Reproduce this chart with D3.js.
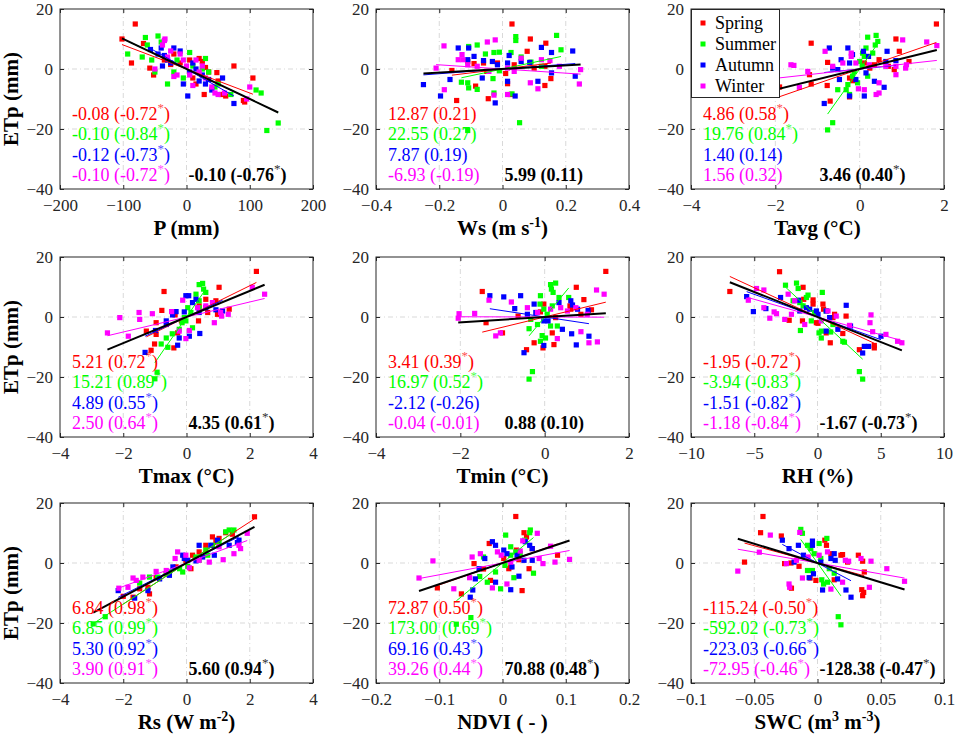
<!DOCTYPE html>
<html><head><meta charset="utf-8">
<script src="https://cdn.jsdelivr.net/npm/d3@7"></script>
<style>
body{margin:0;background:#fff}
svg{display:block}
text{font-family:"Liberation Serif","Times New Roman",serif}
</style>
</head><body>
<svg id="chart" width="957" height="747"></svg>
<script>
// ---------- data ----------
const seasons = ["Spring","Summer","Autumn","Winter"];
const seasonColors = ["#ff0000","#00ff00","#0000ff","#ff00ff"];
const yTicks = [-40,-20,0,20];
const xLabels = ["P (mm)","Ws (m s^{-1})","Tavg (°C)","Tmax (°C)","Tmin (°C)","RH (%)","Rs (W m^{-2})","NDVI ( - )","SWC (m^{3} m^{-3})"];
const xDomains = [[-200,200],[-0.4,0.4],[-4,2],[-4,4],[-4,2],[-10,10],[-4,4],[-0.2,0.2],[-0.1,0.1]];
const xTicks = [[-200,-100,0,100,200],[-0.4,-0.2,0,0.2,0.4],[-4,-2,0,2],[-4,-2,0,2,4],[-4,-2,0,2],[-10,-5,0,5,10],[-4,-2,0,2,4],[-0.2,-0.1,0,0.1,0.2],[-0.1,-0.05,0,0.05,0.1]];

// slopes [spring, summer, autumn, winter, all]
const slopes = [
  [-0.08,-0.10,-0.12,-0.10,-0.10],
  [12.87,22.55,7.87,-6.93,5.99],
  [4.86,19.76,1.40,1.56,3.46],
  [5.21,15.21,4.89,2.50,4.35],
  [3.41,16.97,-2.12,-0.04,0.88],
  [-1.95,-3.94,-1.51,-1.18,-1.67],
  [6.84,6.85,5.30,3.90,5.60],
  [72.87,173.00,69.16,39.26,70.88],
  [-115.24,-592.02,-223.03,-72.95,-128.38]
];
const corrs = [
  [-0.72,-0.84,-0.73,-0.72,-0.76],
  [0.21,0.27,0.19,-0.19,0.11],
  [0.58,0.84,0.14,0.32,0.40],
  [0.72,0.89,0.55,0.64,0.61],
  [0.39,0.52,-0.26,-0.01,0.10],
  [-0.72,-0.83,-0.82,-0.84,-0.73],
  [0.98,0.99,0.92,0.91,0.94],
  [0.50,0.69,0.43,0.44,0.48],
  [-0.50,-0.73,-0.66,-0.46,-0.47]
];
const signif = [
  [1,1,1,1,1],[0,0,0,0,0],[1,1,0,0,1],[1,1,1,1,1],[1,1,0,0,0],
  [1,1,1,1,1],[1,1,1,1,1],[1,1,1,1,1],[1,1,1,1,1]
];

// scatter points [x, ETp] per season (Spring, Summer, Autumn, Winter)
const ptsP = [
  [[-102,10],[-81,15],[-87,2],[-68,8.5],[-52,-2],[-58,0.3],[-35,3],[-20,5],[-10,2],[5,3],[20,3.5],[25,2.5],[30,0.5],[35,-1],[48,-1.2],[50,-4],[55,-8.5],[62,-9],[75,1],[90,-10.5],[92,-11],[105,-3],[28,-8.5],[15,-5],[10,-3],[-25,1.5]],
  [[-93,5],[-70,4],[-65,10.5],[-62,8],[-45,11],[-40,9],[-55,3],[-50,-1],[-30,-5],[-20,-1],[-5,-3],[5,5.5],[10,1],[30,3.5],[35,-1],[45,-6],[70,-8.5],[110,-7],[118,-8],[127,-20.5],[145,-18],[-15,3],[25,0],[50,-5]],
  [[-57,6.5],[-40,7],[-38,1],[-35,4.5],[-30,3],[-20,7],[-10,6],[-5,-5],[2,-9],[10,2],[15,0],[20,-4],[30,-5],[35,-3.5],[40,-7],[57,-3],[75,-11.5],[-25,2],[5,-1],[25,-2],[-45,5]],
  [[-50,0],[-38,8],[-35,9.5],[-34,10],[-30,4],[-25,6],[-20,-2.5],[-15,-2],[-10,5],[0,1],[5,-2],[10,-5.5],[15,3],[25,1],[30,-3],[40,-6],[45,-8],[50,-8.5],[60,-8],[95,-10],[100,-6],[-5,3],[20,-1]]
];
const ptsWs = [
  [[0.03,15],[0.088,10],[0.137,8.6],[0.153,-3.2],[0.134,-5.5],[0.078,5.9],[0.016,-4.9],[-0.045,-9.9],[-0.145,-10.5],[-0.085,-5.7],[-0.16,-0.5],[-0.11,2.5],[-0.09,1.8],[-0.06,2],[-0.016,2],[0.037,1.4],[0.1,0.3],[0.134,0.9],[-0.05,-0.8],[0.025,-8.5],[0.01,-1.5]],
  [[0.171,11.2],[0.042,10.8],[0.042,9.5],[0.054,-17.9],[-0.11,-20.5],[0.03,-8.3],[-0.027,-8],[-0.03,-3.2],[-0.08,-6.8],[-0.107,-6.3],[-0.11,-4.6],[-0.13,-4.4],[-0.107,7.5],[-0.08,8],[-0.054,5],[-0.027,5.5],[-0.01,5.6],[0.027,5.5],[0.059,4],[0.09,2.3],[0.123,0.9],[0.185,6.4],[-0.01,-0.6]],
  [[-0.25,-5.2],[-0.196,-9],[-0.023,-11.3],[0.04,-9],[0.23,-2.4],[0.222,6],[0.155,5.5],[0.123,7.2],[-0.107,7],[-0.14,7],[-0.09,4.2],[-0.06,2.8],[-0.032,2.5],[-0.016,1.4],[0.016,2],[0.021,4.5],[0.059,2.5],[0.086,2.2],[-0.064,-3],[0.016,-4.1],[0.112,-4.1],[0.155,-1.3],[-0.166,-3.5],[-0.11,3.1]],
  [[-0.185,7.7],[-0.184,-6.9],[-0.128,4.8],[-0.125,3.1],[-0.048,9],[-0.023,9.7],[-0.043,-0.8],[-0.027,-8.7],[0.016,-8.5],[0.112,-6.6],[0.088,-4.6],[0.247,-0.2],[0.243,-5],[0.15,2.8],[0.123,3.1],[0.059,3.6],[0.037,-0.8],[0.016,0.3],[-0.08,0.9],[-0.11,1.4],[-0.21,0.3],[-0.14,3.1],[0.18,0.9]]
];
const ptsTavg = [
  [[1.82,15],[0.86,10],[0.94,5.9],[1.17,2.5],[0.68,0.9],[0.46,3.1],[-1.15,8.6],[-1.15,-5],[-0.77,-5.5],[-0.76,2.2],[-0.7,-10.7],[-0.24,-9.3],[-0.17,-3.9],[0.11,2],[0.24,0.3],[0.35,1.4],[0.82,-0.2],[-0.24,-3],[-1.19,-1.9],[-1.9,-6]],
  [[-0.76,-20.3],[-0.64,-17.9],[0.39,11.2],[0.19,10.6],[0.43,9.2],[0.37,8],[0.15,7],[0.07,5.3],[0.11,4.2],[0,2.5],[0.06,0.9],[-0.17,-2.4],[-0.28,-5.2],[-0.32,-6.9],[-0.52,-6.9],[-0.24,-8.5],[0.19,-2.4],[0.31,5.3],[-0.13,-0.8],[-0.05,-4.6]],
  [[-0.84,-11.5],[-0.72,7],[-0.28,7],[-0.24,2],[-0.44,3.1],[-0.52,-0.2],[-0.48,-3.5],[-0.24,-9],[0.11,-9],[0.35,-4.1],[0.58,-6.1],[0.62,2.5],[0.65,5.9],[0.86,2.8],[0.09,5.9],[-0.17,4.8],[0.15,-1.3],[-0.09,-3.5],[0.21,4.2],[-0.64,0.3]],
  [[-1.63,1.4],[-1.56,1.2],[-1.43,-6.1],[-1.23,-0.8],[-0.82,5.9],[-0.64,0.9],[-0.4,2],[-0.2,4.2],[-0.2,5.3],[-0.03,-6.6],[0.11,-6.9],[0.39,-8.5],[0.46,-8],[0.46,-4.6],[0.62,0.9],[0.86,-1.9],[1.02,9.7],[1.11,1.4],[1.09,0.3],[1.59,9],[1.83,7.8],[0.86,0.9],[-0.09,2],[0.23,1.4],[-2.4,1]]
];
const ptsTmax = [
  [[2.21,15.2],[1.03,9.9],[1.35,2.6],[0.93,5.4],[0.67,1.5],[0.38,-1.3],[-0.71,8.5],[-0.78,2.2],[-0.96,-1.9],[-1.01,-9],[-1.12,-11.1],[-1.27,-4.7],[-0.96,-5.8],[-0.4,-10.3],[-0.28,-5.3],[-0.16,-1.3],[0.4,3.7],[0.61,5.9],[0.98,0.9],[-0.36,0.7]],
  [[-0.93,-18.4],[-1.0,-20.6],[0.4,10.8],[0.51,11.2],[0.54,9.3],[0.61,8.2],[0.3,7.6],[0.4,5.4],[0.04,3.1],[0.14,1.5],[-0.07,-0.2],[-0.45,-5.6],[-0.64,-7],[-0.59,-10.1],[-0.8,-9],[-0.23,-4.1],[-0.14,-1.9],[-0.02,-1.3],[0.19,-3.6],[0.4,3.1]],
  [[-1.31,-11.8],[-0.98,-4.5],[-0.44,0.7],[-0.33,1.8],[-0.02,7.1],[0.07,7.1],[0.19,4.8],[0.3,5.9],[0.42,-5.5],[0.09,-6.4],[-0.28,-9.4],[-0.64,-1.3],[0.61,3.1],[0.93,2.4],[1.14,2],[-0.23,-7],[-0.07,1.7],[-0.64,-2.5],[0.4,1.5]],
  [[-2.5,-5.3],[-2.11,-0.2],[-1.84,-6.4],[-1.5,1.5],[-1.48,-0.8],[-1.08,1.1],[-0.47,1.8],[-0.12,5.6],[-0.02,-7.2],[-0.23,-4.7],[0.09,-4.5],[0.61,3.7],[0.82,4.8],[0.88,-1.9],[1.32,0.9],[1.08,1.5],[1.11,0.3],[2.08,9.9],[2.47,7.6],[0.35,3.1]]
];
const ptsTmin = [
  [[1.45,15.2],[0.75,9.9],[0.93,5.8],[1.11,2.4],[0.6,3.7],[0.62,2.6],[0.18,-5.3],[0.22,-9.2],[-0.04,-10.3],[-0.25,-8.6],[-0.43,-10.9],[-0.63,0.3],[-1,-5.3],[-1.39,-1.9],[-1.48,8.5],[-0.1,1.7],[-0.02,4.3],[0.26,-0.2],[0.86,0.9]],
  [[-0.37,-20.7],[-0.29,-18.2],[0.14,10.8],[0.26,11.3],[0.16,9.3],[0.2,8.2],[-0.1,7.1],[-0.11,4.3],[-0.02,2.6],[0.06,0.9],[0.14,-3],[0.3,-3],[-0.06,-6.2],[0.02,-7],[-0.1,-8.1],[-0.37,-3.9],[-0.33,-0.8],[0.18,3.7],[-0.17,-2.5],[0.34,6.5],[0.57,6.5]],
  [[-1.3,7.1],[-0.97,6.7],[-0.57,7.1],[-0.71,2.8],[-0.49,-11.9],[-0.02,-9.5],[-0.02,-1.3],[-0.21,1.5],[-0.25,4.3],[0.34,4.8],[0.62,5.4],[0.66,4],[0.78,2.6],[0.42,-4.1],[0.64,-5.6],[0.75,-9.3],[1.05,-6.4],[1.03,2.2],[0.08,-1.3],[-0.41,0.9]],
  [[-2.03,1.1],[-2.05,-0.4],[-1.66,1.2],[-1.32,5.6],[-1.16,-6.3],[-1.05,-5.3],[-0.79,5],[-0.41,3.1],[0.14,2.6],[0.3,-7.2],[0.54,2],[0.74,3.1],[0.86,-4.9],[1.05,-8.6],[1.25,-8.3],[1.23,9],[1.41,7.6],[1.01,0.9],[0.38,3.1],[-0.17,1.5]]
];
const ptsRH = [
  [[-6.93,8.5],[-3,15.1],[-1.14,9.9],[-1.09,5.9],[-0.35,5.7],[-1.19,-1.3],[-2.24,-1.1],[-0.09,-1.9],[0.04,-2.1],[0.48,2.6],[1.22,-0.2],[1.35,0.9],[0.69,-5.3],[1.01,-8.6],[2,-5.5],[2.26,0.3],[3.31,-10.9],[4.49,-9.5],[4.49,-10.3],[0.43,4.3],[-0.35,4.3]],
  [[-2.53,10.6],[-1.66,11.3],[-1.53,9.5],[-0.75,7.3],[-0.88,6.5],[-1.93,5.4],[-1.4,4.8],[-1.14,3.7],[-1.35,-4.5],[-0.49,-1.3],[0.3,-4.7],[0.3,-7],[0.12,-5.3],[1.04,-5],[2,-8.1],[2.13,-8.4],[3.31,-18.2],[3.57,-20.7],[0.38,8.2],[0.69,2],[-0.22,1.5],[1.22,-2.5]],
  [[-5.6,6.8],[-5.07,1.8],[-4.08,2.8],[-2.92,6.5],[-1.51,5.6],[-0.88,3.1],[-0.09,2],[0.04,0.9],[0.69,2],[0.96,-0.2],[0.69,-4.7],[1.61,-4.1],[2.27,3.9],[2.61,-3],[3.57,-12],[3.7,-9.8],[4.04,-9.8],[5.02,-6.4],[-0.62,2.6],[-1.4,2]],
  [[-5.47,5.6],[-4.82,9.5],[-4.24,9],[-4.24,3.1],[-3.77,-0.4],[-3.43,1.7],[-3.24,1.1],[-2.59,-0.8],[-2.06,0.9],[-2.32,7.6],[-1.8,5.4],[-1.01,-2.5],[0.3,-1.3],[1.48,0.3],[2.53,-2.8],[4.23,0.7],[4.15,-1.9],[4.36,-4.9],[5.41,-5.8],[6.33,-8.1],[6.67,-8.6],[0.83,2]]
];
const ptsRs = [
  [[2.15,15.4],[0.82,8.7],[1.24,10.1],[1.45,9.6],[0.93,7.1],[0.61,5.9],[0.4,3.7],[0.14,-1.9],[-0.02,0.9],[-0.33,-1.3],[-0.64,-3.6],[-0.96,-4.9],[-1.22,-8.1],[-1.17,-10.3],[-1.48,-8.6],[-1.69,-11.4],[-2,-11.1],[0.19,2.6],[1.03,8.2]],
  [[-2.95,-20.3],[-2.57,-17.9],[-1.48,-6.7],[-1.17,-4.7],[-0.91,-4.7],[-0.64,-3.6],[-0.22,-1.9],[-0.12,-3],[0.04,-1.1],[0.3,2],[0.61,4.3],[0.82,5.9],[1.03,6.5],[1.24,10.4],[1.35,11],[0.4,0.9],[0.67,2.6],[-0.54,-3],[1.5,11]],
  [[-2.16,-9.2],[-1.64,-11.7],[-1.22,-9.2],[-0.85,-5.3],[-0.54,-4.1],[-0.43,-1.3],[-0.12,2.6],[-0.07,1.5],[0.04,0.9],[0.3,0.7],[0.4,5.9],[0.77,5.9],[0.98,7.6],[1.35,5.9],[1.61,6.8],[1.66,7.6],[0.51,2],[0.88,2.6]],
  [[-2.14,-8.4],[-1.85,-8.1],[-1.69,-5],[-1.59,-5.8],[-1.38,-4.7],[-0.96,-2.8],[-0.64,-2.5],[-0.28,3.7],[-0.36,1.5],[-0.02,2.6],[0.09,-1.6],[0.4,0.9],[0.72,0.3],[1.03,5.4],[1.16,1.1],[1.5,3.1],[1.66,5.9],[1.71,4.8],[1.92,9.9]]
];
const ptsNDVI = [
  [[0.021,15.5],[-0.103,-8.3],[-0.065,-10.3],[-0.045,-0.2],[-0.019,-5.8],[0.01,-1.9],[0.022,4.3],[0.031,-9.2],[0.034,10.1],[0.038,8.7],[0.042,-1.9],[0.087,2.6],[-0.021,6.5],[0.013,-1.3],[0.026,1.1],[0.002,1.5],[0.047,4.8],[-0.03,-2]],
  [[-0.05,-18.2],[-0.073,-20.4],[-0.024,-6.4],[-0.003,-8.6],[0.005,9.3],[0.013,5.4],[0.021,3.7],[0.028,3.1],[0.035,7.6],[0.044,11],[0.043,10.1],[0.049,-3.4],[0.018,-4.9],[-0.011,-3],[-0.03,2],[0.004,-0.8],[0.013,2.6],[-0.036,-4.5]],
  [[-0.051,-11.4],[-0.047,-9],[-0.043,-5.3],[-0.037,-1.9],[-0.016,7.1],[-0.011,5.9],[0.002,4.3],[0.007,3.1],[0.013,-8.9],[0.015,-1.3],[0.023,2.6],[0.026,-4.4],[0.034,0.9],[0.036,7.1],[0.043,5.9],[0.047,4.8],[0.047,0.9],[-0.028,1.5],[-0.011,-6.4]],
  [[-0.132,-5],[-0.11,0.7],[-0.077,-8.6],[-0.052,-4.9],[-0.048,2],[-0.035,3.1],[-0.016,-8.3],[-0.008,3.7],[-0.002,2.6],[0.007,-7],[0.028,4],[0.032,7.4],[0.055,9.9],[0.058,1.5],[0.064,-0.2],[0.083,0.3],[0.076,5.6],[0.106,1.2],[0.013,0.3]]
];
const ptsSWC = [
  [[-0.0431,15.5],[-0.045,10.1],[-0.0577,0.3],[-0.0286,9],[-0.026,-0.2],[-0.021,0],[-0.0206,-8.4],[-0.0146,-1.1],[-0.0058,-5],[-0.0013,-5.8],[0.0058,7.6],[0.0071,5.9],[0.0132,-5.6],[0.0185,2.6],[0.0198,2.8],[0.0238,0.3],[0.0323,2.6],[0.0357,0.6],[0.035,-8.9],[0.0357,-10.9],[0.0365,-9.8],[0.037,-3],[0.0106,3.1]],
  [[-0.0132,11.2],[-0.0119,9.9],[-0.0079,5.9],[-0.0053,4.8],[-0.0026,3.1],[0.0013,6.5],[0.0074,8.2],[0.0034,-5.6],[0.0048,-7],[0.0079,-6.4],[0.0132,-3.4],[0.0164,-17.9],[0.0185,-20.6],[-0.004,-2.5],[-0.0079,-2.5],[0.0093,-1.9],[0.0026,1.5]],
  [[-0.0278,7.6],[-0.0225,4.8],[-0.0151,5.9],[-0.0111,2.6],[-0.004,7.3],[-0.004,5.9],[-0.0066,-4.9],[-0.0032,-3.6],[0.004,-9],[0.0132,3.1],[0.014,0.9],[0.0159,-5.3],[0.0225,-9],[0.0265,-11.4],[0.0106,1.5],[0.0026,0.3],[-0.0185,0.3]],
  [[-0.063,-2.7],[-0.046,3.6],[-0.0373,9.3],[-0.0225,-7],[-0.022,-8.1],[-0.0246,-0.2],[-0.0167,0.9],[-0.014,10.2],[-0.0119,-5],[-0.0074,2],[0.0013,2.6],[0.0079,3.7],[0.0106,-8.7],[0.0198,-6.4],[0.022,0.9],[0.0246,0.6],[0.0344,1.5],[0.0423,0.6],[0.041,-8.1],[0.0548,-1.9],[0.0688,-6.1]]
];
const panelPoints = [ptsP, ptsWs, ptsTavg, ptsTmax, ptsTmin, ptsRH, ptsRs, ptsNDVI, ptsSWC];

// ---------- layout ----------
const colLeft = [60, 376, 691];
const rowTop = [9, 257, 503];
const PW = 253, PH = 180;
const svg = d3.select("#chart");
svg.append("rect").attr("width",957).attr("height",747).attr("fill","#fff");

const fmtTick = d3.format("~g");
const fmtNum = v => v.toFixed(2);

function richText(sel, str, base, sup) {
  const parts = str.split(/(\^\{[^}]*\})/).filter(s => s.length);
  let up = false;
  parts.forEach(p => {
    if (p.startsWith("^{")) {
      sel.append("tspan").attr("font-size", sup).attr("dy", -8).text(p.slice(2, -1));
      up = true;
    } else {
      const t = sel.append("tspan").attr("font-size", base).text(p);
      if (up) { t.attr("dy", 8); up = false; }
    }
  });
}

function annot(g, x, yb, slope, r, sig, color, bold) {
  const t = g.append("text").attr("x", x).attr("y", yb).attr("fill", color)
    .attr("font-size", 18).attr("font-weight", bold ? "bold" : "normal");
  t.append("tspan").text(fmtNum(slope) + " (" + fmtNum(r));
  if (sig) {
    t.append("tspan").attr("font-size", 13).attr("dy", -8).attr("font-weight","normal")
      .attr("fill", bold ? "#333" : color).attr("opacity", bold ? 1 : 0.7).text("*");
    t.append("tspan").attr("dy", 8).text(")");
  } else {
    t.append("tspan").text(")");
  }
}

panelPoints.forEach((pts, i) => {
  const c = i % 3, r = Math.floor(i / 3);
  const x0 = colLeft[c], y0 = rowTop[r];
  const x = d3.scaleLinear().domain(xDomains[i]).range([x0, x0 + PW]);
  const y = d3.scaleLinear().domain([-40, 20]).range([y0 + PH, y0]);
  const g = svg.append("g");

  // grid
  const grid = g.append("g").attr("stroke", "#cfcfcf").attr("stroke-width", 0.8)
    .attr("stroke-dasharray", "5,3,1,3");
  xTicks[i].filter(t => t > xDomains[i][0] && t < xDomains[i][1]).forEach(t => {
    grid.append("line").attr("x1", x(t)).attr("x2", x(t)).attr("y1", y0).attr("y2", y0 + PH);
  });
  yTicks.filter(t => t > -40 && t < 20).forEach(t => {
    grid.append("line").attr("x1", x0).attr("x2", x0 + PW).attr("y1", y(t)).attr("y2", y(t));
  });

  // axes
  const ax = [
    g.append("g").attr("transform", `translate(0,${y0 + PH})`)
      .call(d3.axisBottom(x).tickValues(xTicks[i]).tickFormat(fmtTick).tickSize(-4).tickPadding(10)),
    g.append("g").attr("transform", `translate(${x0},0)`)
      .call(d3.axisLeft(y).tickValues(yTicks).tickFormat(fmtTick).tickSize(-4).tickPadding(7)),
    g.append("g").attr("transform", `translate(0,${y0})`)
      .call(d3.axisTop(x).tickValues(xTicks[i]).tickFormat("").tickSize(-4)),
    g.append("g").attr("transform", `translate(${x0 + PW},0)`)
      .call(d3.axisRight(y).tickValues(yTicks).tickFormat("").tickSize(-4))
  ];
  ax.forEach(a => {
    a.select(".domain").remove();
    a.selectAll("line").attr("stroke", "#262626");
    a.selectAll("text").attr("font-size", 17).attr("fill", "#262626");
  });

  // points
  pts.forEach((sp, s) => {
    g.append("g").selectAll("rect").data(sp).join("rect")
      .attr("x", d => x(d[0]) - 2.6).attr("y", d => y(d[1]) - 2.6)
      .attr("width", 5.2).attr("height", 5.2).attr("fill", seasonColors[s]);
  });

  // regression lines
  const line = d3.line().x(d => x(d[0])).y(d => y(d[1]));
  pts.forEach((sp, s) => {
    const e = d3.extent(sp, d => d[0]);
    g.append("path").attr("d", line(e.map(v => [v, slopes[i][s] * v])))
      .attr("stroke", seasonColors[s]).attr("stroke-width", 1).attr("fill", "none");
  });
  const all = pts.flat();
  const ea = d3.extent(all, d => d[0]);
  g.append("path").attr("d", line(ea.map(v => [v, slopes[i][4] * v])))
    .attr("stroke", "#000").attr("stroke-width", 2).attr("fill", "none");

  // annotations
  const base = y0 + PH - 8;
  for (let s = 0; s < 4; s++) {
    annot(g, x0 + 12, base - (3 - s) * 20.3, slopes[i][s], corrs[i][s], signif[i][s], seasonColors[s], false);
  }
  annot(g, x0 + PW / 2 + 2, base, slopes[i][4], corrs[i][4], signif[i][4], "#000", true);

  // box
  g.append("rect").attr("x", x0).attr("y", y0).attr("width", PW).attr("height", PH)
    .attr("fill", "none").attr("stroke", "#262626").attr("stroke-width", 1);

  // x label
  const xl = g.append("text").attr("x", x0 + PW / 2).attr("y", y0 + PH + 46)
    .attr("text-anchor", "middle").attr("font-weight", "bold").attr("fill", "#000");
  richText(xl, xLabels[i], 21, 14);

  // y label
  if (c === 0) {
    g.append("text").attr("transform", `translate(18,${y0 + PH / 2}) rotate(-90)`)
      .attr("text-anchor", "middle").attr("font-weight", "bold").attr("font-size", 21)
      .attr("fill", "#000").text("ETp (mm)");
  }

  // legend in Tavg panel
  if (i === 2) {
    const lg = g.append("g");
    lg.append("rect").attr("x", x0 + 0.5).attr("y", y0 + 0.5).attr("width", 88).attr("height", 88)
      .attr("fill", "#fff").attr("stroke", "#262626").attr("stroke-width", 1);
    seasons.forEach((nm, s) => {
      const cy = y0 + 14 + s * 21;
      lg.append("rect").attr("x", x0 + 9.5).attr("y", cy - 2.5).attr("width", 5).attr("height", 5)
        .attr("fill", seasonColors[s]);
      lg.append("text").attr("x", x0 + 24).attr("y", cy).attr("dy", "0.35em")
        .attr("font-size", 18).attr("fill", "#000").text(nm);
    });
  }
});
</script>
</body></html>
